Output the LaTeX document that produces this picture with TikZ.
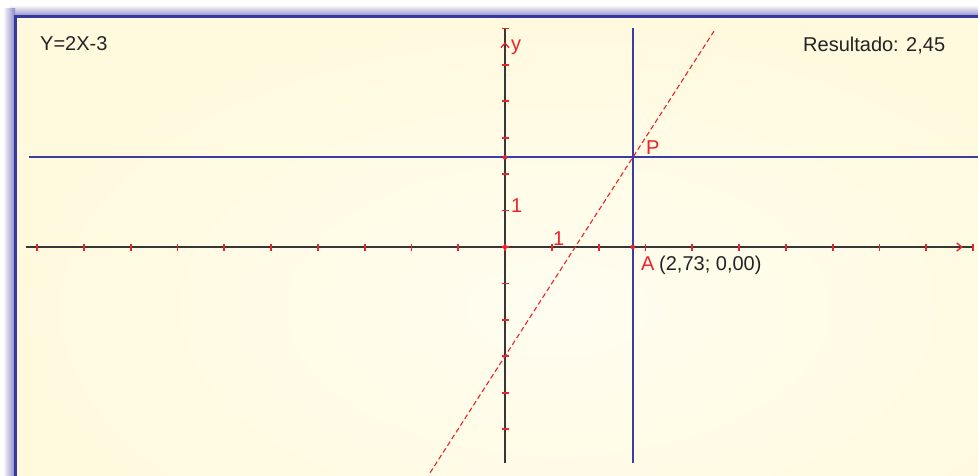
\documentclass[tikz,border=0pt]{standalone}
\usepackage{fontspec}
\setmainfont{Liberation Sans}
\definecolor{cream}{RGB}{255,250,222}
\definecolor{creamlight}{RGB}{255,253,240}
\definecolor{frameblue}{RGB}{55,55,160}
\definecolor{lineblue}{RGB}{60,60,165}
\definecolor{axisgray}{RGB}{55,55,55}
\definecolor{ptred}{RGB}{235,35,45}
\definecolor{txtgray}{RGB}{35,35,35}
\tikzset{
  axisline/.style={axisgray, line width=2pt},
  blueline/.style={lineblue, line width=2pt},
  graphline/.style={ptred, line width=1.1pt, dash pattern=on 5pt off 3pt},
  tickmark/.style={ptred, line width=1.8pt},
  arrowmark/.style={ptred, line width=1.4pt},
  lbl/.style={inner sep=0pt, anchor=base west, font=\fontsize{20}{24}\selectfont},
  redlbl/.style={lbl, text=ptred},
  graylbl/.style={lbl, text=txtgray},
  dot/.style={fill=ptred, circle, inner sep=0pt, minimum size=4.5pt}
}
\begin{document}
\begin{tikzpicture}[x=1pt,y=-1pt]
\useasboundingbox (0,0) rectangle (978,476);
\fill[white] (0,0) rectangle (978,476);
% shadow of the panel
\shade[top color=white, bottom color=frameblue!60] (10,5) rectangle (978,17);
\shade[left color=white, right color=frameblue!60] (3,9) rectangle (15,476);
% panel
\shade[inner color=creamlight, outer color=cream] (15,17) rectangle (1100,600);
\draw[frameblue, line width=3pt] (15,476) -- (15,17) -- (978,17);
% texts
\node[graylbl] (eq) at (40,50.5) {Y=2X-3};
\node[graylbl] (res) at (803,52) {Resultado: 2,45};
% coordinate system
\begin{scope}[shift={(505,247)}, x=46.8pt, y=36.4pt]
  \coordinate (xl) at (-10.24,0);
  \coordinate (xr) at (9.98,0);
  \coordinate (yb) at (0,-5.93);
  \coordinate (yt) at (0,6.02);
  \coordinate (O) at (0,0);
  \coordinate (A) at (2.73,0);
  \coordinate (P) at (2.73,2.46);
  \coordinate (Py) at (0,2.46);
  \coordinate (hl) at (-10.17,2.46);
  \coordinate (hr) at (10.2,2.46);
  \coordinate (vb) at (2.73,-5.93);
  \coordinate (vt) at (2.73,6.02);
  \coordinate (gl) at (-1.6,-6.2);
  \coordinate (gr) at (4.49,5.98);
  \draw[axisline] (xl) -- (xr);
  \draw[axisline] (yb) -- (yt);
  \draw[blueline] (hl) -- (hr);
  \draw[blueline] (vb) -- (vt);
  \draw[graphline] (gl) -- (gr);
  \foreach \i in {-10,...,10} {
    \draw[tickmark] (\i,0) ++(0,-3.5pt) -- ++(0,7pt);
  }
  \foreach \j in {-5,...,6} {
    \draw[tickmark] (0,\j) ++(-3.5pt,0) -- ++(7pt,0);
  }
  \coordinate (xa) at (9.76,0);
  \coordinate (ya) at (0,5.6);
  \draw[arrowmark] (xa) ++(-5pt,4pt) -- (xa) -- ++(-5pt,-4pt);
  \draw[arrowmark] (ya) ++(-4pt,-4.5pt) -- (ya) -- ++(4pt,-4.5pt);
  \node[dot] (dO) at (O) {};
  \node[dot] (dA) at (A) {};
  \node[dot] (dPy) at (Py) {};
\end{scope}
% labels
\node[redlbl] (ylbl) at (511,51) {y};
\node[redlbl] (one1) at (511,212.5) {1};
\node[redlbl] (one2) at (553,245) {1};
\node[redlbl] (plbl) at (646,155) {P};
\node[redlbl] (albl) at (641,270) {A};
\node[graylbl] (acoord) at (659,270) {(2,73; 0,00)};
\end{tikzpicture}
\end{document}
